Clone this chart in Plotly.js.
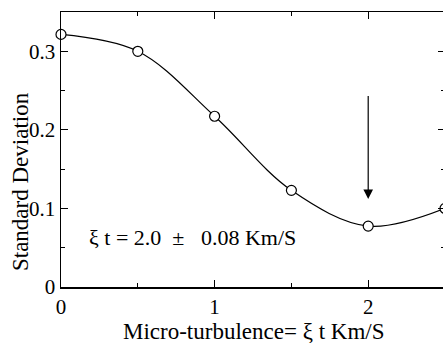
<!DOCTYPE html>
<html><head><meta charset="utf-8">
<script src="https://cdn.plot.ly/plotly-3.0.1.min.js"></script>
<style>html,body{margin:0;padding:0;overflow:hidden;background:#fff;width:443px;height:343px}</style>
</head><body>
<div id="chart" style="width:447px;height:343px"></div>
<script>
const turbulence = [0, 0.5, 1.0, 1.5, 2.0, 2.5];
const stdDev = [0.3215, 0.300, 0.2173, 0.123, 0.0775, 0.100];
const xTickVals = [0, 1, 2];
const yTickVals = [0, 0.1, 0.2, 0.3];
const annotationText = "ξ t = 2.0 \u00a0±\u00a0\u00a0 0.08 Km/S";
const xTitle = "Micro-turbulence= ξ t Km/S";
const yTitle = "Standard Deviation";
const arrowX = 2.0, arrowFrom = 0.245, arrowTo = 0.112;

const fam = "Liberation Serif";
const tickFont = {family: fam, size: 21, color: "#000"};
const bigFont = {family: fam, size: 22, color: "#000"};
const titleFont = {family: fam, size: 23, color: "#000"};

Plotly.newPlot("chart", [{
  x: turbulence, y: stdDev, type: "scatter", mode: "lines+markers",
  line: {shape: "spline", smoothing: 1, color: "#000", width: 1.2},
  marker: {symbol: "circle", size: 10, color: "#fff", line: {color: "#000", width: 1.2}},
  cliponaxis: false
}], {
  width: 447, height: 343,
  margin: {l: 61, r: 2, t: 12, b: 56},
  paper_bgcolor: "#fff", plot_bgcolor: "#fff",
  font: tickFont,
  showlegend: false,
  xaxis: {
    range: [0, 2.5], tickvals: xTickVals, ticktext: xTickVals.map(String),
    ticks: "inside", ticklen: 7, tickwidth: 1, tickcolor: "#000",
    minor: {dtick: 0.5, ticks: "inside", ticklen: 4, tickcolor: "#000"},
    showline: true, linecolor: "#000", linewidth: 1.5, mirror: "allticks",
    showgrid: false, zeroline: false, tickfont: tickFont
  },
  yaxis: {
    range: [0, 0.35], tickvals: yTickVals, ticktext: ["0", "0.1", "0.2", "0.3"],
    ticks: "inside", ticklen: 7, tickwidth: 1, tickcolor: "#000",
    minor: {dtick: 0.05, ticks: "inside", ticklen: 4, tickcolor: "#000"},
    showline: true, linecolor: "#000", linewidth: 1.5, mirror: "allticks",
    showgrid: false, zeroline: false, tickfont: tickFont
  },
  annotations: [
    {x: 0.17, y: 0.0635, xref: "x", yref: "y", text: annotationText, showarrow: false,
     xanchor: "left", yanchor: "middle", font: bigFont},
    {x: 0.5, y: -0.162, xref: "paper", yref: "paper", text: xTitle, showarrow: false,
     xanchor: "center", yanchor: "middle", font: titleFont},
    {x: -0.107, y: 0.385, xref: "paper", yref: "paper", text: yTitle, showarrow: false,
     textangle: -90, xanchor: "center", yanchor: "middle", font: titleFont},
    {x: arrowX, y: arrowTo, ax: arrowX, ay: arrowFrom, xref: "x", yref: "y", axref: "x", ayref: "y",
     text: "", showarrow: true, arrowhead: 2, arrowsize: 1.6, arrowwidth: 1.2, arrowcolor: "#000"}
  ]
}, {displayModeBar: false, staticPlot: true});
</script>
</body></html>
